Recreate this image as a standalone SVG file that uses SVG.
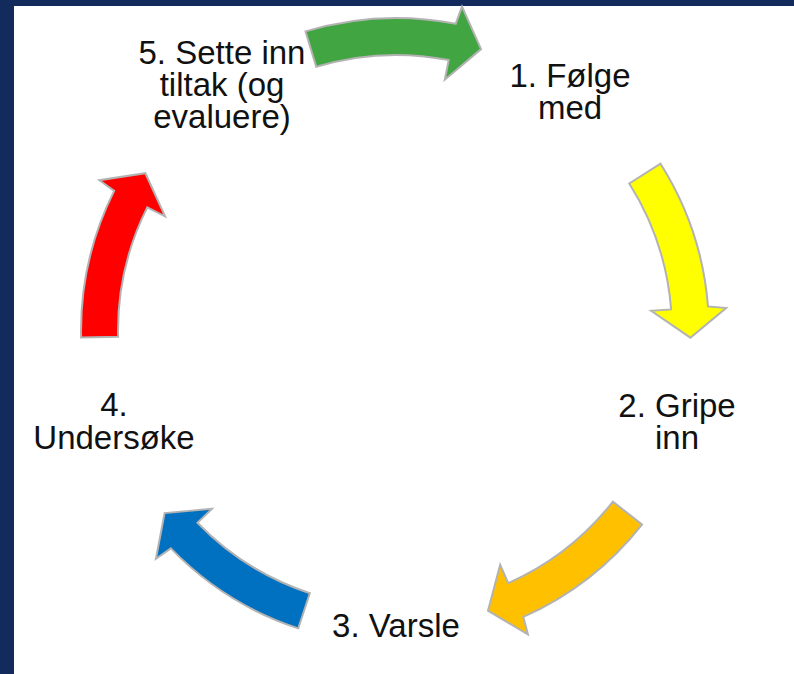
<svg xmlns="http://www.w3.org/2000/svg" width="794" height="674" viewBox="0 0 794 674">
<style>
.lbl{font-family:"Liberation Sans",Arial,sans-serif;font-size:33px;fill:#111;text-anchor:middle}
.arr{stroke:#b3b3b3;stroke-width:2;stroke-linejoin:miter}
</style>
<defs>
<path id="arrowShape" d="M-90.5,-299.6 A313,313 0 0 1 59.7,-307.2 L66,-324.3 L85.1,-281.9 L48.8,-251.3 L52.7,-270.9 A276,276 0 0 0 -79.8,-264.2 Z"/>
</defs>
<rect x="0" y="0" width="794" height="674" fill="#ffffff"/>
<rect x="0" y="0" width="794" height="6" fill="#132a5c"/>
<rect x="0" y="0" width="14" height="674" fill="#132a5c"/>
<g id="connectors">
<use href="#arrowShape" class="arr" fill="#41a541" transform="translate(396,331) rotate(0)"/>
<use href="#arrowShape" class="arr" fill="#ffff00" transform="translate(396,331) rotate(74.5)"/>
<use href="#arrowShape" class="arr" fill="#ffc000" transform="translate(396,331) rotate(145)"/>
<use href="#arrowShape" class="arr" fill="#0070c0" transform="translate(396,331) rotate(215)"/>
<use href="#arrowShape" class="arr" fill="#ff0000" transform="translate(394,331) rotate(285.6)"/>
</g>
<g id="node1"><text class="lbl" x="570" y="87">1. Følge</text><text class="lbl" x="570" y="119">med</text></g>
<g id="node2"><text class="lbl" x="677" y="417">2. Gripe</text><text class="lbl" x="677" y="449">inn</text></g>
<g id="node3"><text class="lbl" x="396" y="637">3. Varsle</text></g>
<g id="node4"><text class="lbl" x="114" y="416">4.</text><text class="lbl" x="114" y="449">Undersøke</text></g>
<g id="node5"><text class="lbl" x="222" y="64">5. Sette inn</text><text class="lbl" x="222" y="96">tiltak (og</text><text class="lbl" x="222" y="128">evaluere)</text></g>
</svg>
